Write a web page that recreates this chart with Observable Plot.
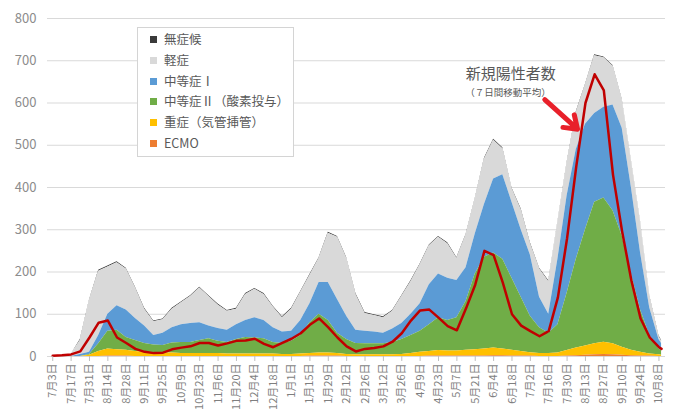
<!DOCTYPE html>
<html><head><meta charset="utf-8">
<script src="https://cdn.jsdelivr.net/npm/d3@7"></script>
<script src="https://cdn.jsdelivr.net/npm/@observablehq/plot@0.6"></script>
<style>
body{margin:0;background:#fff;font-family:"Noto Sans CJK JP","Noto Sans",sans-serif;}
#wrap{position:relative;width:676px;height:412px;overflow:hidden;}
#legend{position:absolute;left:137px;top:27px;width:157px;height:130px;border:1px solid #d4d4d4;background:#fff;box-sizing:border-box;}
.item{position:absolute;left:12px;font-size:12.5px;color:#595959;line-height:16px;height:16px;white-space:nowrap;}
.sw{display:inline-block;width:7px;height:7px;margin-right:7px;position:relative;top:-1px;}
</style>
</head><body>
<div id="wrap"><div id="chart"></div><div id="legend"></div></div>
<script>
// weekly sample dates (every 7 days from 2020-07-03) plus the last day shown
const dates = ["2020-07-03","2020-07-10","2020-07-17","2020-07-24","2020-07-31","2020-08-07","2020-08-14","2020-08-21","2020-08-28","2020-09-04","2020-09-11","2020-09-18","2020-09-25","2020-10-02","2020-10-09","2020-10-16","2020-10-23","2020-10-30","2020-11-06","2020-11-13","2020-11-20","2020-11-27","2020-12-04","2020-12-11","2020-12-18","2020-12-25","2021-01-01","2021-01-08","2021-01-15","2021-01-22","2021-01-29","2021-02-05","2021-02-12","2021-02-19","2021-02-26","2021-03-05","2021-03-12","2021-03-19","2021-03-26","2021-04-02","2021-04-09","2021-04-16","2021-04-23","2021-04-30","2021-05-07","2021-05-14","2021-05-21","2021-05-28","2021-06-04","2021-06-11","2021-06-18","2021-06-25","2021-07-02","2021-07-09","2021-07-16","2021-07-23","2021-07-30","2021-08-06","2021-08-13","2021-08-20","2021-08-27","2021-09-03","2021-09-10","2021-09-17","2021-09-24","2021-10-01","2021-10-08","2021-10-10"];

const asymptomatic = [0,0,0,2,2,2,2,2,2,2,2,2,2,2,2,2,2,2,2,2,2,2,2,2,2,2,2,2,2,2,2,2,2,2,2,2,2,2,2,2,2,2,2,2,2,2,2,2,2,2,2,2,2,2,2,2,2,2,2,2,2,2,2,2,2,2,2,2];
const mild = [2,3,5,33,122,152,112,102,97,72,40,32,32,44,52,64,82,70,56,45,37,62,67,62,49,34,52,67,67,57,117,147,137,85,42,39,37,42,64,77,92,92,87,82,52,77,82,107,92,62,32,47,27,67,77,87,77,87,92,137,117,92,67,62,72,27,7,5];
const moderate1 = [0,0,0,5,5,20,40,58,65,52,41,23,29,36,42,45,42,30,30,29,35,40,48,43,35,27,24,35,45,75,90,80,55,31,30,28,25,32,38,50,65,95,103,100,88,80,95,125,175,200,180,160,145,72,45,155,230,260,250,210,215,250,255,205,135,65,22,17];
const moderate2 = [0,0,0,0,2,18,42,46,30,26,21,18,18,24,26,26,31,35,29,27,34,39,38,36,27,26,31,44,73,92,77,48,35,27,26,26,26,29,35,43,50,63,78,72,79,115,179,217,225,212,170,128,86,61,48,67,136,210,275,335,341,315,263,180,100,44,14,11];
const severe = [0,0,0,0,3,12,17,15,14,12,10,9,8,8,7,7,7,7,7,6,6,6,6,6,6,5,5,6,6,7,7,6,5,4,4,4,4,4,5,7,10,11,13,12,12,14,15,17,18,16,14,11,8,7,7,8,13,18,22,26,29,26,19,13,9,5,4,3];
const ecmo = [0,0,0,0,0,0,1,1,1,0,0,0,0,0,0,0,0,0,0,0,0,0,0,0,0,0,0,0,1,1,1,1,0,0,0,0,0,0,0,0,0,1,1,1,1,1,1,1,2,2,1,1,1,0,0,0,1,2,3,4,5,4,3,2,1,1,0,0];
// 新規陽性者数（7日間移動平均）
const newCases7 = [2,3,5,12,45,80,85,45,32,18,11,8,9,17,21,24,32,32,26,31,37,38,42,30,22,32,42,55,75,90,69,45,24,12,18,20,24,35,55,85,109,111,92,72,62,114,170,250,240,175,100,73,60,48,60,140,280,450,600,668,630,430,295,180,90,45,22,18];

const tickLabels = ["7月3日","7月17日","7月31日","8月14日","8月28日","9月11日","9月25日","10月9日","10月23日","11月6日","11月20日","12月4日","12月18日","1月1日","1月15日","1月29日","2月12日","2月26日","3月12日","3月26日","4月9日","4月23日","5月7日","5月21日","6月4日","6月18日","7月2日","7月16日","7月30日","8月13日","8月27日","9月10日","9月24日","10月8日"];
const yTicks = [0,100,200,300,400,500,600,700,800];

const seriesNames = ["無症候","軽症","中等症Ⅰ","中等症Ⅱ（酸素投与）","重症（気管挿管）","ECMO"];
const seriesColors = ["#3a3a3a","#d9d9d9","#5b9bd5","#70ad47","#ffc000","#ed7d31"];
const seriesValues = [asymptomatic, mild, moderate1, moderate2, severe, ecmo];

const parse = d3.utcParse("%Y-%m-%d");
const D = dates.map(parse);
const rows = [];
seriesNames.forEach((name, s) => D.forEach((d, i) => rows.push({date: d, key: name, value: seriesValues[s][i]})));
const line = D.map((d, i) => ({date: d, value: newCases7[i]}));
const tickDates = D.filter((d, i) => i % 2 === 0 && i <= 66);
const labelMap = new Map(tickDates.map((d, i) => [+d, tickLabels[i]]));
const stackOrder = ["ECMO","重症（気管挿管）","中等症Ⅱ（酸素投与）","中等症Ⅰ","軽症","無症候"];

const annText = [{date: parse("2021-06-17"), value: 668, text: "新規陽性者数"}];
const annSub = [{date: parse("2021-06-15"), value: 623, text: "（７日間移動平均）"}];
const annArrow = [{x1: parse("2021-07-13"), y1: 608, x2: parse("2021-08-07"), y2: 538}];

const font = '"Noto Sans CJK JP","Noto Sans",sans-serif';
const chart = Plot.plot({
  width: 676, height: 412,
  marginLeft: 47, marginRight: 11, marginTop: 18, marginBottom: 56,
  style: {fontFamily: font, fontSize: "12px", color: "#808080", background: "#fff"},
  x: {type: "utc", domain: [parse("2020-06-29"), parse("2021-10-13")], label: null},
  y: {domain: [0, 800], label: null},
  color: {domain: seriesNames, range: seriesColors},
  marks: [
    Plot.gridY(yTicks, {stroke: "#d9d9d9", strokeOpacity: 1, strokeWidth: 1}),
    Plot.areaY(rows, {x: "date", y: "value", z: "key", fill: "key", order: stackOrder, curve: "linear"}),
    Plot.lineY(line, {x: "date", y: "value", stroke: "#c00000", strokeWidth: 2.5, curve: "linear"}),
    Plot.axisY({ticks: yTicks, tickSize: 0, tickPadding: 11, fontSize: 13, fill: "#8c8c8c"}),
    Plot.axisX({ticks: tickDates, tickFormat: d => labelMap.get(+d), tickRotate: -90, tickSize: 5, tickPadding: 2, fontSize: 11, fill: "#7f7f7f", stroke: "#bfbfbf"}),
    Plot.text(annText, {x: "date", y: "value", text: "text", fontSize: 15, fill: "#595959"}),
    Plot.text(annSub, {x: "date", y: "value", text: "text", fontSize: 9.5, fill: "#595959"}),
    Plot.arrow(annArrow, {x1: "x1", y1: "y1", x2: "x2", y2: "y2", stroke: "#e8202a", strokeWidth: 5, headLength: 16, headAngle: 70})
  ]
});
document.getElementById("chart").appendChild(chart);

const legend = document.getElementById("legend");
seriesNames.forEach((name, i) => {
  const it = document.createElement("div");
  it.className = "item";
  it.style.top = (3 + i * 20.8) + "px";
  it.innerHTML = `<span class="sw" style="background:${seriesColors[i]}"></span>${name}`;
  legend.appendChild(it);
});
</script>
</body></html>
